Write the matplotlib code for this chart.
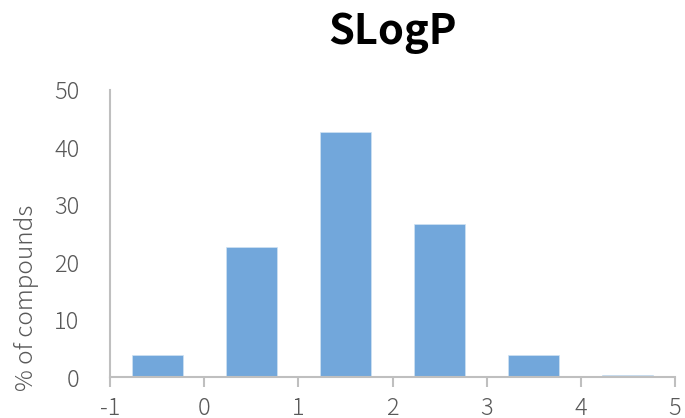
import matplotlib
matplotlib.use("Agg")
import matplotlib.pyplot as plt

# SLogP histogram (% of compounds per bin)
bin_centers = [-0.5, 0.5, 1.5, 2.5, 3.5, 4.5]
percent = [3.9, 22.6, 42.7, 26.7, 3.9, 0.3]
x_ticks = [-1, 0, 1, 2, 3, 4, 5]
y_ticks = [0, 10, 20, 30, 40, 50]

plt.rcParams['font.family'] = ['Noto Sans CJK JP', 'DejaVu Sans']

grey = '#595959'
axis_grey = '#BFBFBF'

fig = plt.figure(figsize=(6.85, 4.18), dpi=100)
ax = fig.add_axes([0.1606, 0.098, 0.8248, 0.687])

ax.bar(bin_centers, percent, width=0.54, color='#72A7DB',
       edgecolor='#CFE2F3', linewidth=0.5, zorder=2)

ax.set_xlim(-1, 5)
ax.set_ylim(0, 50)
ax.set_xticks(x_ticks)
ax.set_yticks(y_ticks)
ax.set_xticklabels([str(t) for t in x_ticks])

for s in ['top', 'right']:
    ax.spines[s].set_visible(False)
for s in ['left', 'bottom']:
    ax.spines[s].set_color(axis_grey)
    ax.spines[s].set_linewidth(1.5)

ax.tick_params(axis='x', direction='out', length=7, width=1.5,
               color=axis_grey, labelcolor=grey, labelsize=17, pad=7)
ax.tick_params(axis='y', length=0, labelcolor=grey, labelsize=17, pad=22)
for lab in ax.get_xticklabels() + ax.get_yticklabels():
    lab.set_fontweight('light')

fig.text(393 / 685, 1 - 33 / 418, 'SLogP', ha='center', va='center',
         fontsize=30, fontweight='bold', color='black')
fig.text(26 / 685, 1 - 298 / 418, '% of compounds', ha='center', va='center',
         rotation=90, fontsize=17.5, fontweight='light', color=grey)

fig.savefig('out.png', dpi=100)
